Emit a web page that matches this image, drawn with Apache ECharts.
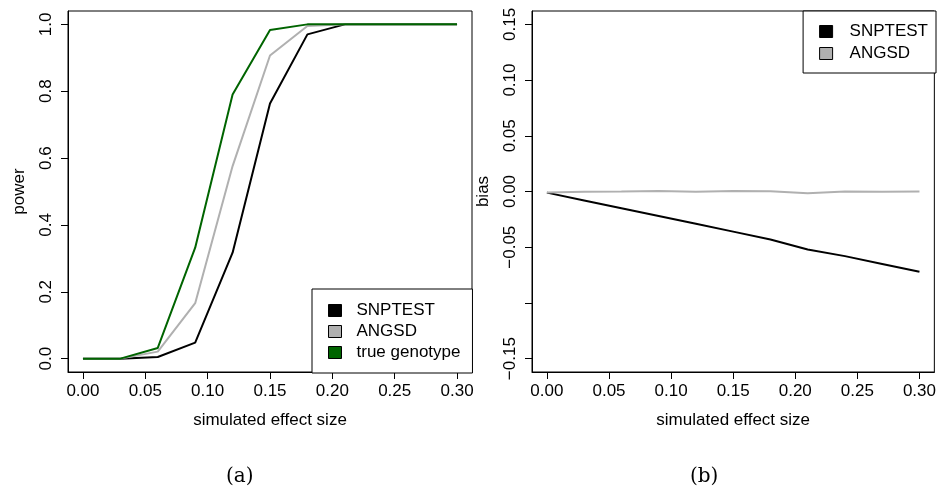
<!DOCTYPE html>
<html>
<head>
<meta charset="utf-8">
<script src="https://cdn.jsdelivr.net/npm/echarts@6/dist/echarts.min.js"></script>
<style>
html, body { margin: 0; padding: 0; background: #fff; }
#main { width: 939px; height: 487px; }
</style>
</head>
<body>
<div id="main"></div>
<script>
// simulated effect sizes (x for both panels)
var effect = [0, 0.03, 0.06, 0.09, 0.12, 0.15, 0.18, 0.21, 0.24, 0.27, 0.30];

// (a) power
var powerSnptest = [0, 0, 0.005, 0.048, 0.317, 0.763, 0.970, 1, 1, 1, 1];
var powerAngsd   = [0, 0, 0.021, 0.166, 0.576, 0.907, 0.995, 1, 1, 1, 1];
var powerTrue    = [0, 0, 0.032, 0.332, 0.790, 0.983, 1, 1, 1, 1, 1];

// (b) bias
var biasSnptest = [-0.001, -0.008, -0.015, -0.022, -0.029, -0.036, -0.043, -0.052, -0.058, -0.065, -0.072];
var biasAngsd   = [-0.001, -0.0003, 0, 0.0005, -0.0003, 0.0004, 0.0003, -0.0015, 0, -0.0002, -0.0001];

// tick marks and labels
var xTicks = [0, 0.05, 0.10, 0.15, 0.20, 0.25, 0.30];
var powerTicks = [0, 0.2, 0.4, 0.6, 0.8, 1.0];
var biasTicks = [-0.15, -0.10, -0.05, 0, 0.05, 0.10, 0.15];
var biasLabels = [-0.15, -0.05, 0, 0.05, 0.10, 0.15];

var font = "'Liberation Sans', Arial, sans-serif";
var colSnp = '#000000', colAng = '#b0b0b0', colTrue = '#006400';

function pairs(ys) {
    return effect.map(function (x, i) { return [x, ys[i]]; });
}
function minus(s) { return s.replace('-', '\u2212'); }

function xAxisOf(idx) {
    return {
        gridIndex: idx, type: 'value', min: -0.012, max: 0.312,
        name: 'simulated effect size', nameLocation: 'middle', nameGap: 40,
        nameTextStyle: { fontFamily: font, fontSize: 17, color: '#000' },
        axisLine: { onZero: false, lineStyle: { color: '#000', width: 1 } },
        axisTick: { customValues: xTicks, length: 7, lineStyle: { color: '#000' } },
        axisLabel: {
            customValues: xTicks, margin: 11, fontFamily: font, fontSize: 17, color: '#000',
            formatter: function (v) { return v.toFixed(2); }
        },
        splitLine: { show: false }
    };
}

var myChart = echarts.init(document.getElementById('main'), null, { renderer: 'canvas' });
var lineBase = { type: 'line', symbol: 'none', showSymbol: false, animation: false };

var option = {
    backgroundColor: '#fff',
    animation: false,
    grid: [
        { left: 68, top: 11, width: 404, height: 361, show: true, borderColor: '#000', borderWidth: 1 },
        { left: 532, top: 11, width: 404, height: 361, show: true, borderColor: '#000', borderWidth: 1 }
    ],
    xAxis: [xAxisOf(0), xAxisOf(1)],
    yAxis: [{
        gridIndex: 0, type: 'value', min: -0.04, max: 1.04,
        name: 'power', nameLocation: 'middle', nameGap: 40,
        nameTextStyle: { fontFamily: font, fontSize: 17, color: '#000' },
        axisLine: { show: true, onZero: false, lineStyle: { color: '#000' } },
        axisTick: { show: true, customValues: powerTicks, length: 7, lineStyle: { color: '#000' } },
        axisLabel: {
            customValues: powerTicks, rotate: 90, margin: 13, fontFamily: font, fontSize: 17, color: '#000',
            formatter: function (v) { return v.toFixed(1); }
        },
        splitLine: { show: false }
    }, {
        gridIndex: 1, type: 'value', min: -0.162, max: 0.162,
        name: 'bias', nameLocation: 'middle', nameGap: 40,
        nameTextStyle: { fontFamily: font, fontSize: 17, color: '#000' },
        axisLine: { show: true, onZero: false, lineStyle: { color: '#000' } },
        axisTick: { show: true, customValues: biasTicks, length: 7, lineStyle: { color: '#000' } },
        axisLabel: {
            customValues: biasLabels, rotate: 90, margin: 13, fontFamily: font, fontSize: 17, color: '#000',
            formatter: function (v) { return minus(v.toFixed(2)); }
        },
        splitLine: { show: false }
    }],
    legend: [{
        orient: 'vertical', left: 312, top: 289,
        data: ['SNPTEST', 'ANGSD', 'true genotype'],
        icon: 'rect', itemWidth: 13, itemHeight: 12, itemGap: 4,
        padding: [13, 12, 12, 16],
        backgroundColor: '#fff', borderColor: '#000', borderWidth: 1, borderRadius: 0,
        itemStyle: { borderColor: '#000', borderWidth: 1 },
        textStyle: { fontFamily: font, fontSize: 17, lineHeight: 17, color: '#000', padding: [0, 0, 0, 10] }
    }, {
        orient: 'vertical', right: 3, top: 11,
        data: ['SNPTEST', 'ANGSD'],
        icon: 'rect', itemWidth: 13, itemHeight: 12, itemGap: 5,
        padding: [12, 8, 11, 16],
        backgroundColor: '#fff', borderColor: '#000', borderWidth: 1, borderRadius: 0,
        itemStyle: { borderColor: '#000', borderWidth: 1 },
        textStyle: { fontFamily: font, fontSize: 17, lineHeight: 17, color: '#000', padding: [0, 0, 0, 12] }
    }],
    graphic: [
        { type: 'text', left: 226, top: 467, style: { text: '(a)', font: "20px 'DejaVu Serif', serif", fill: '#000' } },
        { type: 'text', left: 690, top: 467, style: { text: '(b)', font: "20px 'DejaVu Serif', serif", fill: '#000' } }
    ],
    series: [
        Object.assign({}, lineBase, { name: 'SNPTEST', xAxisIndex: 0, yAxisIndex: 0, data: pairs(powerSnptest),
            lineStyle: { color: colSnp, width: 2 }, itemStyle: { color: colSnp } }),
        Object.assign({}, lineBase, { name: 'ANGSD', xAxisIndex: 0, yAxisIndex: 0, data: pairs(powerAngsd),
            lineStyle: { color: colAng, width: 2 }, itemStyle: { color: colAng } }),
        Object.assign({}, lineBase, { name: 'true genotype', xAxisIndex: 0, yAxisIndex: 0, data: pairs(powerTrue),
            lineStyle: { color: colTrue, width: 2 }, itemStyle: { color: colTrue } }),
        Object.assign({}, lineBase, { name: 'SNPTEST', xAxisIndex: 1, yAxisIndex: 1, data: pairs(biasSnptest),
            lineStyle: { color: colSnp, width: 2 }, itemStyle: { color: colSnp } }),
        Object.assign({}, lineBase, { name: 'ANGSD', xAxisIndex: 1, yAxisIndex: 1, data: pairs(biasAngsd),
            lineStyle: { color: colAng, width: 2 }, itemStyle: { color: colAng } })
    ]
};
myChart.setOption(option);
</script>
</body>
</html>
